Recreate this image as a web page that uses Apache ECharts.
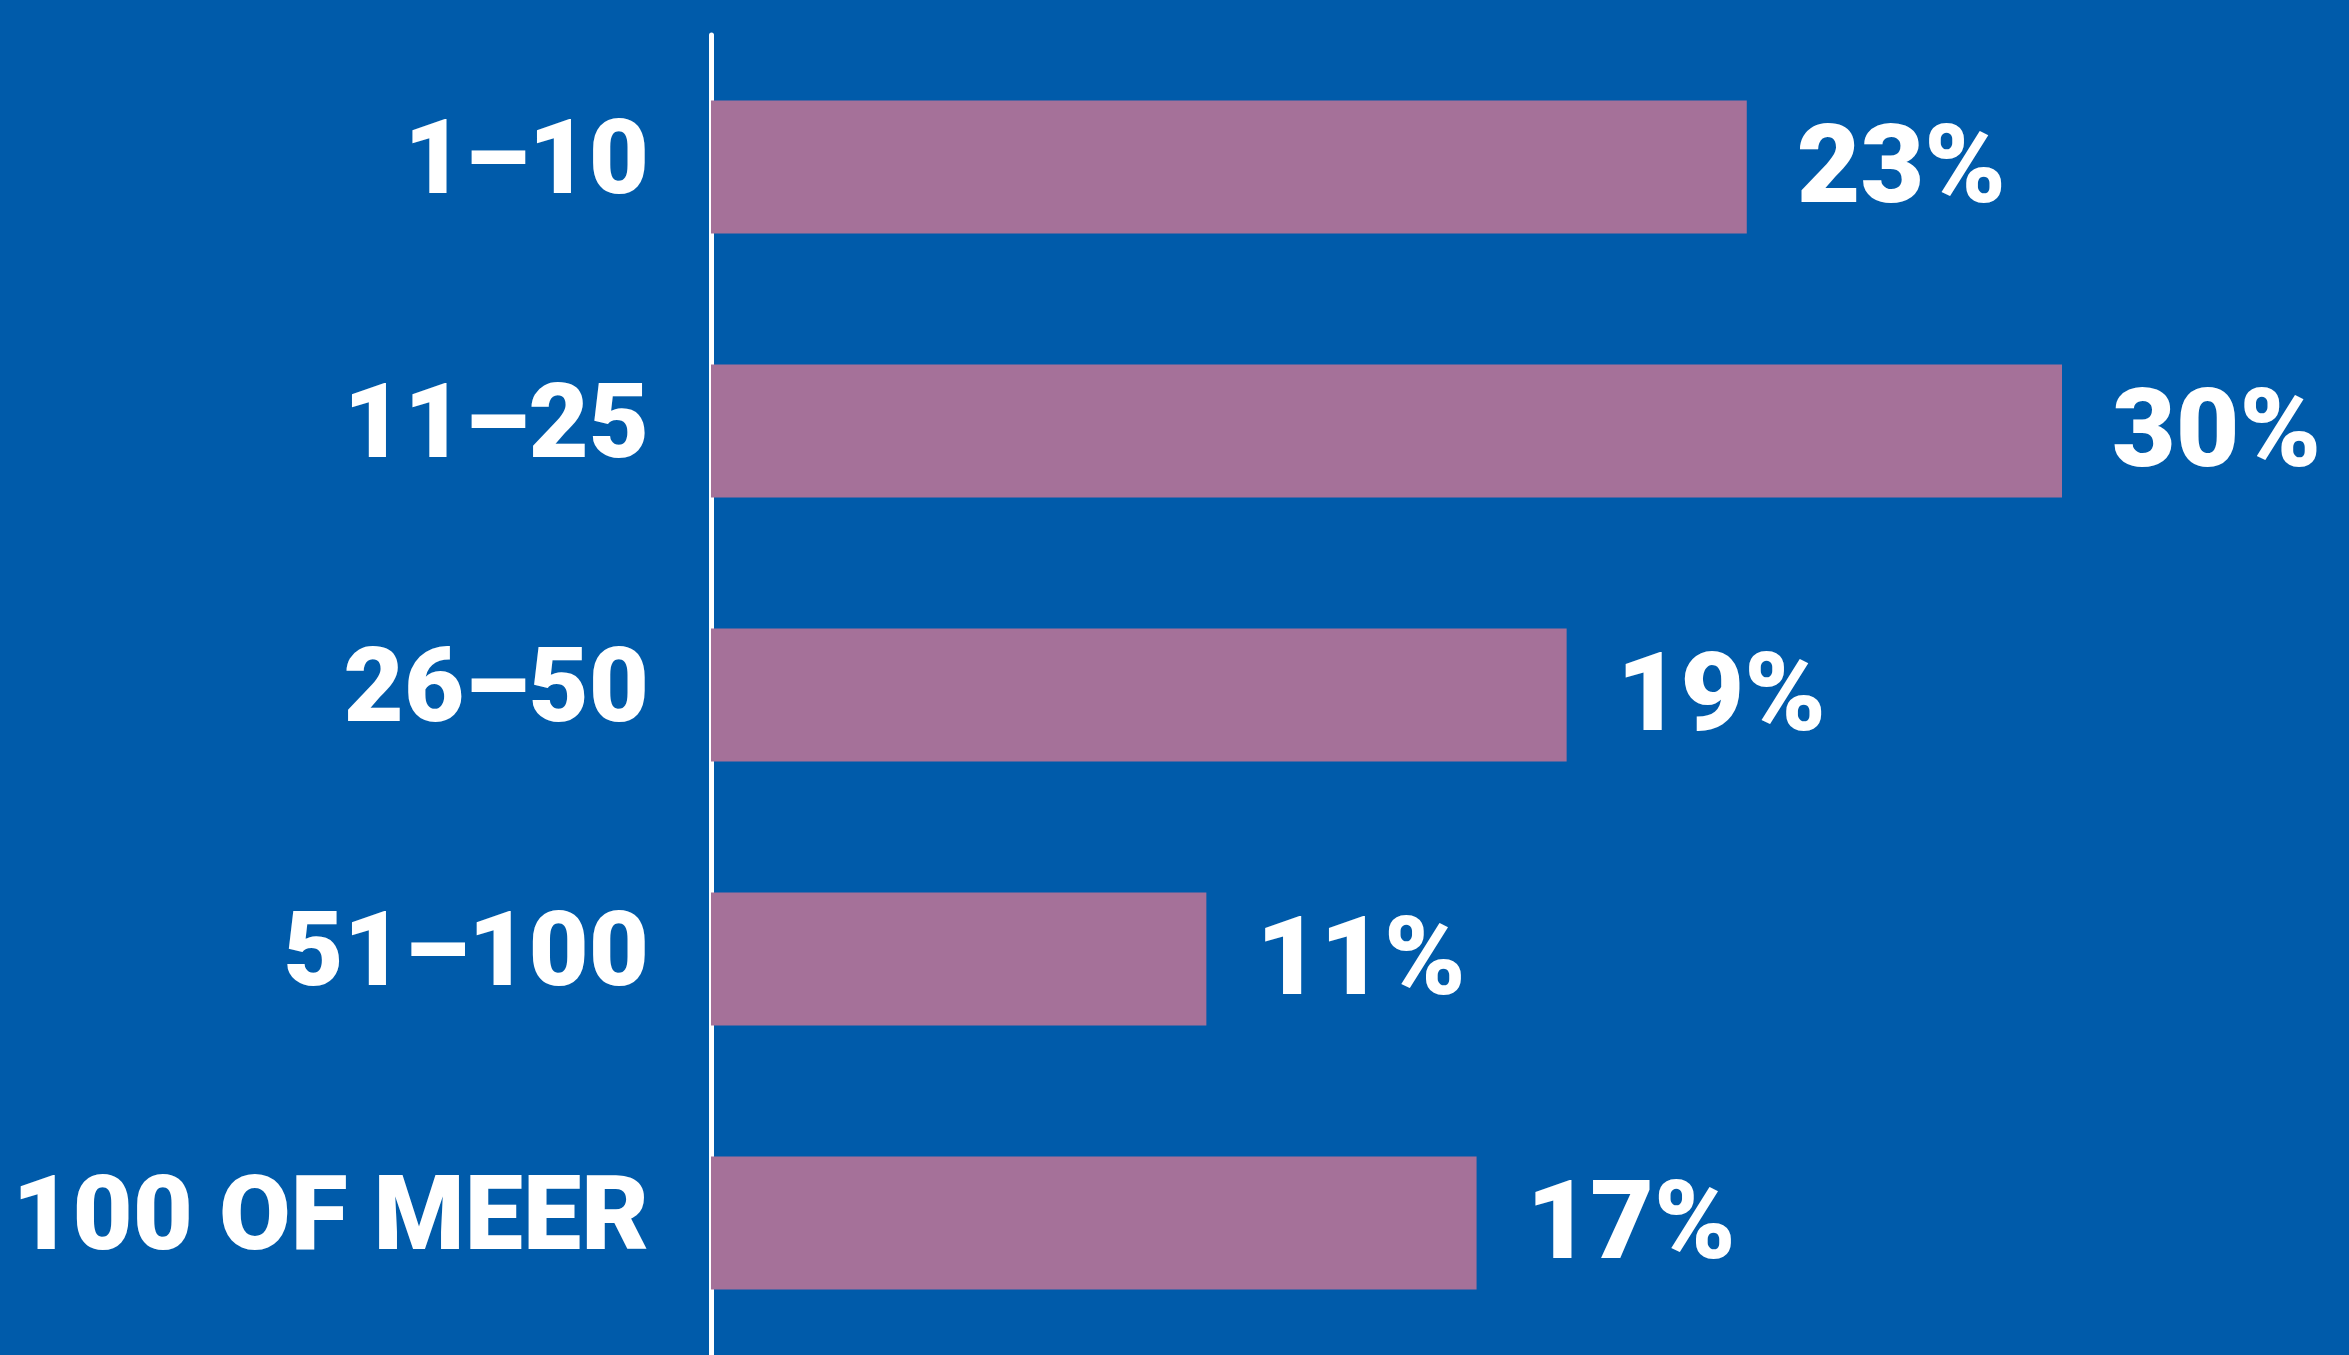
<!DOCTYPE html>
<html>
<head>
<meta charset="utf-8">
<script src="https://cdn.jsdelivr.net/npm/echarts@6/dist/echarts.min.js"></script>
<style>
  html, body { margin: 0; padding: 0; background: #005BAA; }
  #chart { width: 2349px; height: 1355px; }
</style>
</head>
<body>
<div id="chart"></div>
<script>
// categories (top to bottom)
const categories = ['1–10', '11–25', '26–50', '51–100', '100 OF MEER'];
// share per category, in %
const shares = [23, 30, 19, 11, 17];

const chart = echarts.init(document.getElementById('chart'));
const option = {
  backgroundColor: '#005BAA',
  textStyle: { fontFamily: 'Roboto' },
  grid: {
    left: 711,
    right: 287,
    top: 35,
    bottom: 0,
    containLabel: false,
    outerBoundsMode: 'none'
  },
  xAxis: {
    type: 'value',
    min: 0,
    max: 30,
    show: false
  },
  yAxis: {
    type: 'category',
    data: categories,
    inverse: true,
    axisLine: {
      show: true,
      lineStyle: { color: '#ffffff', width: 5 }
    },
    axisTick: { show: false },
    axisLabel: {
      color: '#ffffff',
      fontSize: 104,
      fontWeight: 900,
      fontFamily: 'Roboto',
      margin: 62,
      padding: [0, 0, 14, 0]
    },
    splitLine: { show: false }
  },
  series: [
    {
      type: 'bar',
      data: shares,
      barWidth: 133,
      itemStyle: { color: '#A57199' },
      label: {
        show: true,
        position: 'right',
        distance: 50,
        offset: [0, 7],
        formatter: '{c}%',
        color: '#ffffff',
        fontSize: 110,
        fontWeight: 900,
        fontFamily: 'Roboto'
      },
      animation: false
    }
  ]
};
chart.setOption(option);
</script>
</body>
</html>
